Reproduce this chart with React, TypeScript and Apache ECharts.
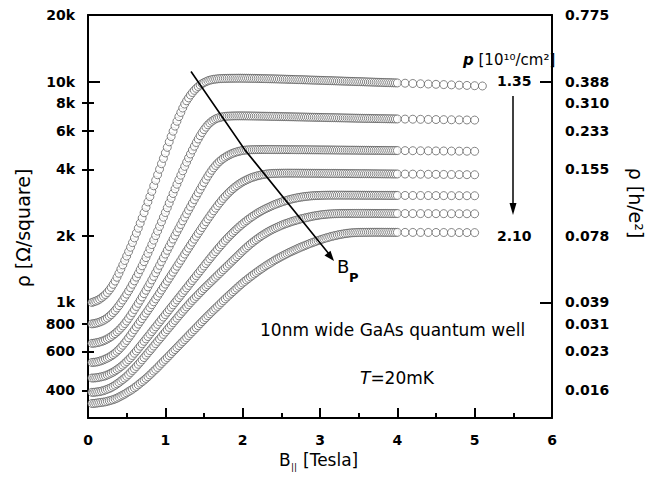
import React, { useEffect, useRef } from 'react';
import * as echarts from 'echarts';

// In-plane field B|| [Tesla]
const FIELD_T = [
  0.05, 0.075, 0.1, 0.125, 0.15, 0.175, 0.2, 0.225, 0.25, 0.275,
  0.3, 0.325, 0.35, 0.375, 0.4, 0.425, 0.45, 0.475, 0.5, 0.525,
  0.55, 0.575, 0.6, 0.625, 0.65, 0.675, 0.7, 0.725, 0.75, 0.775,
  0.8, 0.825, 0.85, 0.875, 0.9, 0.925, 0.95, 0.975, 1.0, 1.025,
  1.05, 1.075, 1.1, 1.125, 1.15, 1.175, 1.2, 1.225, 1.25, 1.275,
  1.3, 1.325, 1.35, 1.375, 1.4, 1.425, 1.45, 1.475, 1.5, 1.525,
  1.55, 1.575, 1.6, 1.625, 1.65, 1.675, 1.7, 1.725, 1.75, 1.775,
  1.8, 1.825, 1.85, 1.875, 1.9, 1.925, 1.95, 1.975, 2.0, 2.025,
  2.05, 2.075, 2.1, 2.125, 2.15, 2.175, 2.2, 2.225, 2.25, 2.275,
  2.3, 2.325, 2.35, 2.375, 2.4, 2.425, 2.45, 2.475, 2.5, 2.525,
  2.55, 2.575, 2.6, 2.625, 2.65, 2.675, 2.7, 2.725, 2.75, 2.775,
  2.8, 2.825, 2.85, 2.875, 2.9, 2.925, 2.95, 2.975, 3.0, 3.025,
  3.05, 3.075, 3.1, 3.125, 3.15, 3.175, 3.2, 3.225, 3.25, 3.275,
  3.3, 3.325, 3.35, 3.375, 3.4, 3.425, 3.45, 3.475, 3.5, 3.525,
  3.55, 3.575, 3.6, 3.625, 3.65, 3.675, 3.7, 3.725, 3.75, 3.775,
  3.8, 3.825, 3.85, 3.875, 3.9, 3.925, 3.95, 3.975, 4.0,
  4.1, 4.2, 4.3, 4.4, 4.5, 4.6, 4.7, 4.8, 4.9, 5.0, 5.1,
];

// Resistivity [Ohm/square], one array per density (p = 1.35 ... 2.10 x10^10/cm^2)
const RHO_1 = [
  1000, 1007, 1014, 1023, 1035, 1050, 1067, 1086, 1109, 1138,
  1169, 1208, 1250, 1300, 1355, 1416, 1479, 1549, 1622, 1698,
  1778, 1866, 1959, 2061, 2168, 2286, 2410, 2547, 2692, 2851,
  3013, 3184, 3373, 3573, 3784, 4009, 4246, 4487, 4753, 5035,
  5333, 5636, 5957, 6281, 6607, 6934, 7244, 7586, 7907, 8185,
  8433, 8690, 8913, 9120, 9311, 9484, 9638, 9772, 9886, 9977,
  10069, 10139, 10186, 10233, 10257, 10280, 10304, 10312, 10320, 10328,
  10335, 10339, 10342, 10344, 10346, 10348, 10350, 10349, 10348, 10347,
  10345, 10342, 10338, 10334, 10330, 10326, 10322, 10316, 10310, 10305,
  10300, 10295, 10290, 10286, 10282, 10276, 10270, 10264, 10258, 10252,
  10245, 10238, 10232, 10226, 10220, 10212, 10205, 10198, 10192, 10186,
  10180, 10173, 10166, 10159, 10152, 10146, 10140, 10133, 10126, 10119,
  10112, 10105, 10098, 10092, 10085, 10078, 10070, 10064, 10058, 10051,
  10044, 10037, 10030, 10023, 10016, 10009, 10002, 9995, 9988, 9982,
  9975, 9968, 9960, 9954, 9948, 9941, 9934, 9927, 9920, 9913,
  9906, 9900, 9893, 9886, 9880, 9873, 9866, 9859, 9852,
  9825, 9795, 9768, 9740, 9712, 9685, 9655, 9628, 9600, 9572, 9545,
];
const RHO_2 = [
  800, 802, 805, 810, 815, 822, 830, 840, 851, 866,
  881, 900, 920, 944, 968, 997, 1026, 1058, 1091, 1128,
  1167, 1209, 1253, 1302, 1352, 1408, 1466, 1530, 1596, 1669,
  1746, 1828, 1914, 2007, 2104, 2208, 2317, 2432, 2553, 2682,
  2818, 2961, 3112, 3266, 3428, 3594, 3767, 3944, 4130, 4315,
  4508, 4699, 4898, 5094, 5297, 5493, 5689, 5875, 6053, 6213,
  6368, 6490, 6607, 6694, 6776, 6826, 6871, 6905, 6934, 6952,
  6966, 6974, 6980, 6985, 6988, 6990, 6992, 6991, 6990, 6989,
  6988, 6986, 6984, 6982, 6980, 6978, 6975, 6972, 6970, 6967,
  6964, 6961, 6958, 6955, 6952, 6949, 6946, 6943, 6940, 6937,
  6934, 6931, 6928, 6925, 6922, 6919, 6916, 6913, 6910, 6907,
  6904, 6901, 6898, 6895, 6892, 6889, 6886, 6883, 6880, 6877,
  6874, 6871, 6868, 6865, 6862, 6859, 6856, 6853, 6850, 6847,
  6844, 6841, 6838, 6835, 6832, 6829, 6826, 6823, 6820, 6818,
  6815, 6812, 6810, 6808, 6805, 6802, 6800, 6798, 6795, 6792,
  6790, 6788, 6785, 6782, 6780, 6778, 6775, 6772, 6770,
  6760, 6752, 6744, 6736, 6728, 6720, 6712, 6705, 6698, 6690,
];
const RHO_3 = [
  653, 654, 656, 659, 662, 666, 671, 677, 684, 692,
  701, 712, 723, 736, 750, 766, 783, 803, 824, 848,
  873, 900, 929, 959, 991, 1024, 1059, 1096, 1135, 1176,
  1219, 1265, 1312, 1363, 1416, 1472, 1531, 1592, 1656, 1722,
  1791, 1862, 1936, 2011, 2089, 2170, 2254, 2341, 2432, 2523,
  2618, 2716, 2818, 2921, 3027, 3137, 3251, 3369, 3491, 3610,
  3733, 3850, 3963, 4068, 4169, 4260, 4345, 4418, 4487, 4547,
  4603, 4652, 4699, 4739, 4775, 4804, 4831, 4854, 4875, 4888,
  4898, 4904, 4909, 4913, 4916, 4918, 4920, 4921, 4922, 4923,
  4923, 4923, 4922, 4922, 4921, 4921, 4920, 4920, 4919, 4919,
  4918, 4917, 4916, 4916, 4915, 4914, 4913, 4912, 4912, 4911,
  4910, 4909, 4909, 4908, 4907, 4906, 4906, 4905, 4904, 4903,
  4902, 4901, 4901, 4900, 4899, 4898, 4897, 4896, 4895, 4894,
  4894, 4893, 4892, 4891, 4890, 4889, 4888, 4887, 4886, 4885,
  4885, 4884, 4883, 4882, 4881, 4880, 4879, 4878, 4877, 4876,
  4875, 4875, 4874, 4873, 4872, 4872, 4871, 4870, 4870,
  4866, 4862, 4858, 4855, 4851, 4848, 4844, 4840, 4836, 4832,
];
const RHO_4 = [
  535, 536, 537, 539, 542, 546, 550, 555, 560, 566,
  573, 581, 590, 601, 612, 626, 640, 656, 673, 692,
  711, 732, 753, 775, 798, 821, 845, 870, 895, 921,
  948, 977, 1007, 1038, 1069, 1103, 1138, 1174, 1211, 1249,
  1288, 1329, 1371, 1414, 1459, 1505, 1552, 1603, 1656, 1708,
  1762, 1818, 1875, 1934, 1995, 2056, 2118, 2183, 2249, 2318,
  2388, 2458, 2529, 2600, 2673, 2745, 2818, 2889, 2958, 3025,
  3090, 3153, 3214, 3271, 3327, 3378, 3428, 3473, 3516, 3553,
  3589, 3623, 3656, 3682, 3707, 3729, 3750, 3767, 3784, 3798,
  3811, 3820, 3828, 3833, 3837, 3840, 3843, 3845, 3846, 3847,
  3848, 3849, 3849, 3849, 3848, 3848, 3847, 3847, 3846, 3846,
  3845, 3845, 3844, 3844, 3843, 3843, 3842, 3842, 3841, 3840,
  3840, 3839, 3839, 3838, 3838, 3837, 3837, 3836, 3835, 3835,
  3834, 3834, 3833, 3832, 3832, 3831, 3830, 3830, 3829, 3828,
  3828, 3827, 3826, 3826, 3825, 3824, 3823, 3823, 3822, 3821,
  3820, 3820, 3819, 3818, 3818, 3817, 3816, 3815, 3815,
  3812, 3809, 3806, 3803, 3800, 3797, 3794, 3791, 3788, 3785,
];
const RHO_5 = [
  455, 455, 456, 457, 459, 461, 463, 466, 470, 474,
  479, 484, 490, 497, 504, 512, 520, 530, 540, 551,
  562, 575, 589, 603, 618, 634, 650, 667, 684, 701,
  719, 738, 757, 776, 796, 817, 838, 859, 881, 904,
  927, 951, 975, 1000, 1026, 1052, 1079, 1107, 1135, 1164,
  1194, 1225, 1256, 1288, 1321, 1355, 1390, 1426, 1462, 1500,
  1538, 1578, 1618, 1658, 1698, 1740, 1782, 1824, 1866, 1908,
  1950, 1991, 2032, 2073, 2113, 2153, 2193, 2232, 2270, 2307,
  2344, 2380, 2415, 2449, 2483, 2515, 2547, 2577, 2606, 2634,
  2661, 2686, 2710, 2736, 2761, 2783, 2805, 2826, 2846, 2865,
  2884, 2901, 2918, 2933, 2948, 2961, 2974, 2985, 2996, 3005,
  3014, 3021, 3028, 3034, 3039, 3043, 3047, 3050, 3052, 3054,
  3056, 3057, 3058, 3059, 3059, 3060, 3060, 3060, 3060, 3060,
  3060, 3059, 3059, 3059, 3059, 3058, 3058, 3058, 3058, 3057,
  3057, 3057, 3056, 3056, 3056, 3055, 3055, 3055, 3054, 3054,
  3054, 3053, 3053, 3053, 3052, 3052, 3052, 3051, 3051,
  3050, 3049, 3048, 3047, 3046, 3045, 3044, 3043, 3042, 3041,
];
const RHO_6 = [
  392, 392, 393, 394, 395, 397, 399, 402, 405, 408,
  412, 417, 422, 428, 434, 441, 448, 455, 463, 472,
  482, 492, 502, 513, 525, 537, 550, 563, 577, 591,
  605, 620, 635, 651, 667, 683, 700, 717, 735, 753,
  771, 790, 809, 829, 849, 870, 891, 912, 933, 955,
  977, 999, 1021, 1042, 1064, 1086, 1109, 1132, 1156, 1179,
  1202, 1226, 1250, 1275, 1300, 1326, 1352, 1379, 1406, 1434,
  1462, 1491, 1521, 1551, 1581, 1612, 1644, 1677, 1710, 1742,
  1774, 1805, 1837, 1867, 1897, 1925, 1954, 1981, 2009, 2035,
  2061, 2085, 2109, 2131, 2153, 2173, 2193, 2213, 2234, 2252,
  2270, 2285, 2301, 2317, 2333, 2346, 2360, 2374, 2388, 2399,
  2410, 2421, 2432, 2443, 2455, 2463, 2472, 2480, 2489, 2495,
  2500, 2506, 2512, 2515, 2518, 2520, 2523, 2525, 2527, 2528,
  2529, 2529, 2530, 2530, 2530, 2530, 2530, 2530, 2530, 2530,
  2530, 2530, 2529, 2529, 2529, 2529, 2529, 2529, 2528, 2528,
  2528, 2528, 2528, 2528, 2527, 2527, 2527, 2527, 2527,
  2526, 2525, 2525, 2524, 2523, 2523, 2522, 2521, 2521, 2520,
];
const RHO_7 = [
  349, 349, 350, 351, 352, 353, 354, 355, 357, 359,
  361, 363, 366, 369, 373, 377, 381, 385, 390, 395,
  400, 405, 411, 417, 424, 431, 438, 445, 453, 461,
  470, 479, 489, 498, 508, 519, 530, 541, 552, 563,
  575, 587, 600, 612, 625, 638, 652, 665, 679, 693,
  708, 723, 738, 753, 769, 785, 802, 819, 836, 853,
  871, 888, 906, 924, 942, 960, 979, 999, 1019, 1039,
  1059, 1079, 1099, 1119, 1140, 1161, 1183, 1204, 1225, 1245,
  1265, 1285, 1306, 1326, 1346, 1366, 1387, 1406, 1426, 1446,
  1466, 1484, 1503, 1522, 1542, 1560, 1578, 1596, 1614, 1631,
  1648, 1665, 1683, 1698, 1714, 1730, 1746, 1762, 1778, 1792,
  1807, 1822, 1837, 1851, 1866, 1879, 1892, 1905, 1919, 1932,
  1945, 1956, 1968, 1979, 1991, 2000, 2009, 2018, 2028, 2035,
  2042, 2049, 2056, 2060, 2065, 2068, 2070, 2072, 2074, 2075,
  2076, 2076, 2077, 2077, 2078, 2078, 2078, 2078, 2078, 2078,
  2078, 2077, 2077, 2077, 2077, 2077, 2077, 2076, 2076,
  2076, 2075, 2075, 2074, 2074, 2073, 2073, 2072, 2072, 2071,
];

const CURVES = [RHO_1, RHO_2, RHO_3, RHO_4, RHO_5, RHO_6, RHO_7];

const Y_TICK_VALUES = [400, 600, 800, 1000, 2000, 4000, 6000, 8000, 10000, 20000];
const Y_LEFT_LABELS = ['400', '600', '800', '1k', '2k', '4k', '6k', '8k', '10k', '20k'];
const Y_RIGHT_LABELS = ['0.016', '0.023', '0.031', '0.039', '0.078', '0.155', '0.233', '0.310', '0.388', '0.775'];
const Y_MAJOR_TICKS = [1000, 10000];
const Y_MINOR_TICKS = [400, 600, 800, 2000, 4000, 6000, 8000];
const DENSITY_FIRST = '1.35';
const DENSITY_LAST = '2.10';

const FONT = '"DejaVu Sans", "Liberation Sans", sans-serif';

function nearestIndex(v: number): number {
  let best = 0;
  let bestErr = Infinity;
  Y_TICK_VALUES.forEach((t, i) => {
    const e = Math.abs(Math.log10(v) - Math.log10(t));
    if (e < bestErr) {
      bestErr = e;
      best = i;
    }
  });
  return best;
}

export default function App() {
  const ref = useRef<HTMLDivElement>(null);

  useEffect(() => {
    if (!ref.current) return;
    const chart = echarts.init(ref.current, undefined, { renderer: 'svg' });

    const tickLabelStyle = {
      fontFamily: FONT,
      fontSize: 14,
      fontWeight: 'bold' as const,
      color: '#000',
    };
    const axisLineStyle = { color: '#000', width: 2 };
    const yBase = {
      type: 'log' as const,
      logBase: 10,
      min: 300,
      max: 20000,
      splitLine: { show: false },
      minorTick: { show: false },
      minorSplitLine: { show: false },
    };

    const series = CURVES.map((arr, k) => ({
      type: 'scatter' as const,
      name: 'c' + k,
      xAxisIndex: 0,
      yAxisIndex: 0,
      symbol: 'circle',
      symbolSize: 8,
      silent: true,
      itemStyle: { color: '#fff', borderColor: '#555', borderWidth: 0.9 },
      data: arr.map((v, i) => [FIELD_T[i], v]),
    }));

    const txt = (text: string, x: number, y: number, extra: any = {}) => ({
      type: 'text',
      x,
      y,
      z: 100,
      style: { text, fontFamily: FONT, fill: '#000', align: 'left', verticalAlign: 'middle', ...extra },
    });

    const option: any = {
      animation: false,
      backgroundColor: '#fff',
      grid: { left: 88, right: 116, top: 15, bottom: 71, outerBoundsMode: 'none' },
      xAxis: [
        {
          type: 'value',
          min: 0,
          max: 6,
          interval: 1,
          position: 'bottom',
          axisLine: { onZero: false, lineStyle: axisLineStyle },
          axisTick: { inside: true, length: 10, lineStyle: axisLineStyle },
          minorTick: { show: true, splitNumber: 2, length: 5, lineStyle: axisLineStyle },
          splitLine: { show: false },
          minorSplitLine: { show: false },
          axisLabel: { ...tickLabelStyle, margin: 15 },
        },
        {
          type: 'value',
          min: 0,
          max: 6,
          position: 'top',
          axisLine: { onZero: false, lineStyle: axisLineStyle },
          axisTick: { show: false },
          axisLabel: { show: false },
          splitLine: { show: false },
        },
      ],
      yAxis: [
        {
          ...yBase,
          position: 'left',
          axisLine: { show: true, onZero: false, lineStyle: axisLineStyle },
          axisTick: { show: true, inside: true, length: 12, customValues: Y_MAJOR_TICKS, lineStyle: axisLineStyle },
          axisLabel: {
            ...tickLabelStyle,
            margin: 13,
            customValues: Y_TICK_VALUES,
            formatter: (v: number) => Y_LEFT_LABELS[nearestIndex(v)],
          },
        },
        {
          ...yBase,
          position: 'left',
          axisLine: { show: false },
          axisTick: { show: true, inside: true, length: 6, customValues: Y_MINOR_TICKS, lineStyle: axisLineStyle },
          axisLabel: { show: false },
        },
        {
          ...yBase,
          position: 'right',
          axisLine: { show: true, onZero: false, lineStyle: axisLineStyle },
          axisTick: { show: true, inside: true, length: 12, customValues: Y_MAJOR_TICKS, lineStyle: axisLineStyle },
          axisLabel: {
            ...tickLabelStyle,
            margin: 13,
            customValues: Y_TICK_VALUES,
            formatter: (v: number) => Y_RIGHT_LABELS[nearestIndex(v)],
          },
        },
        {
          ...yBase,
          position: 'right',
          axisLine: { show: false },
          axisTick: { show: true, inside: true, length: 6, customValues: Y_MINOR_TICKS, lineStyle: axisLineStyle },
          axisLabel: { show: false },
        },
      ],
      series,
      graphic: {
        elements: [
          // axis titles
          {
            type: 'text',
            x: 23,
            y: 228,
            rotation: Math.PI / 2,
            z: 100,
            style: { text: 'ρ [Ω/square]', fontFamily: FONT, fontSize: 19, fill: '#000', align: 'center', verticalAlign: 'middle' },
          },
          {
            type: 'text',
            x: 636,
            y: 203,
            rotation: -Math.PI / 2,
            z: 100,
            style: { text: 'ρ [h/e²]', fontFamily: FONT, fontSize: 19, fill: '#000', align: 'center', verticalAlign: 'middle' },
          },
          txt('B', 279, 460, { fontSize: 17 }),
          txt('||', 291, 467, { fontSize: 9 }),
          txt('[Tesla]', 303, 460, { fontSize: 17 }),
          // density annotation
          {
            type: 'text',
            x: 463,
            y: 60,
            z: 100,
            style: {
              text: '{i|p}{n| [10¹⁰/cm²]}',
              align: 'left',
              verticalAlign: 'middle',
              rich: {
                i: { fontFamily: FONT, fontSize: 15, fontStyle: 'italic', fontWeight: 'bold', fill: '#000' },
                n: { fontFamily: FONT, fontSize: 15, fill: '#000' },
              },
            },
          },
          txt(DENSITY_FIRST, 497, 81, { fontSize: 14, fontWeight: 'bold' }),
          txt(DENSITY_LAST, 497, 236, { fontSize: 14, fontWeight: 'bold' }),
          {
            type: 'line',
            z: 100,
            shape: { x1: 513, y1: 96, x2: 513, y2: 206 },
            style: { stroke: '#000', lineWidth: 1.5 },
          },
          {
            type: 'polygon',
            z: 100,
            shape: { points: [[513, 215], [509.5, 203], [516.5, 203]] },
            style: { fill: '#000' },
          },
          // B_P arrow
          {
            type: 'polyline',
            z: 100,
            shape: { points: [[191, 71.5], [245, 150], [329, 254]] },
            style: { stroke: '#000', lineWidth: 1.6, fill: null },
          },
          {
            type: 'polygon',
            z: 100,
            shape: { points: [[334, 261], [324.5, 255.5], [330.5, 250.7]] },
            style: { fill: '#000' },
          },
          txt('B', 337, 266, { fontSize: 18 }),
          txt('P', 349, 277, { fontSize: 13, fontWeight: 'bold' }),
          txt('10nm wide GaAs quantum well', 260, 330, { fontSize: 17 }),
          {
            type: 'text',
            x: 360,
            y: 378,
            z: 100,
            style: {
              text: '{i|T}{n|=20mK}',
              align: 'left',
              verticalAlign: 'middle',
              rich: {
                i: { fontFamily: FONT, fontSize: 17, fontStyle: 'italic', fill: '#000' },
                n: { fontFamily: FONT, fontSize: 17, fill: '#000' },
              },
            },
          },
        ],
      },
    };

    chart.setOption(option);
    return () => chart.dispose();
  }, []);

  return (
    <div
      ref={ref}
      style={{ position: 'fixed', left: 0, top: 0, width: 668, height: 489, background: '#fff' }}
    />
  );
}
